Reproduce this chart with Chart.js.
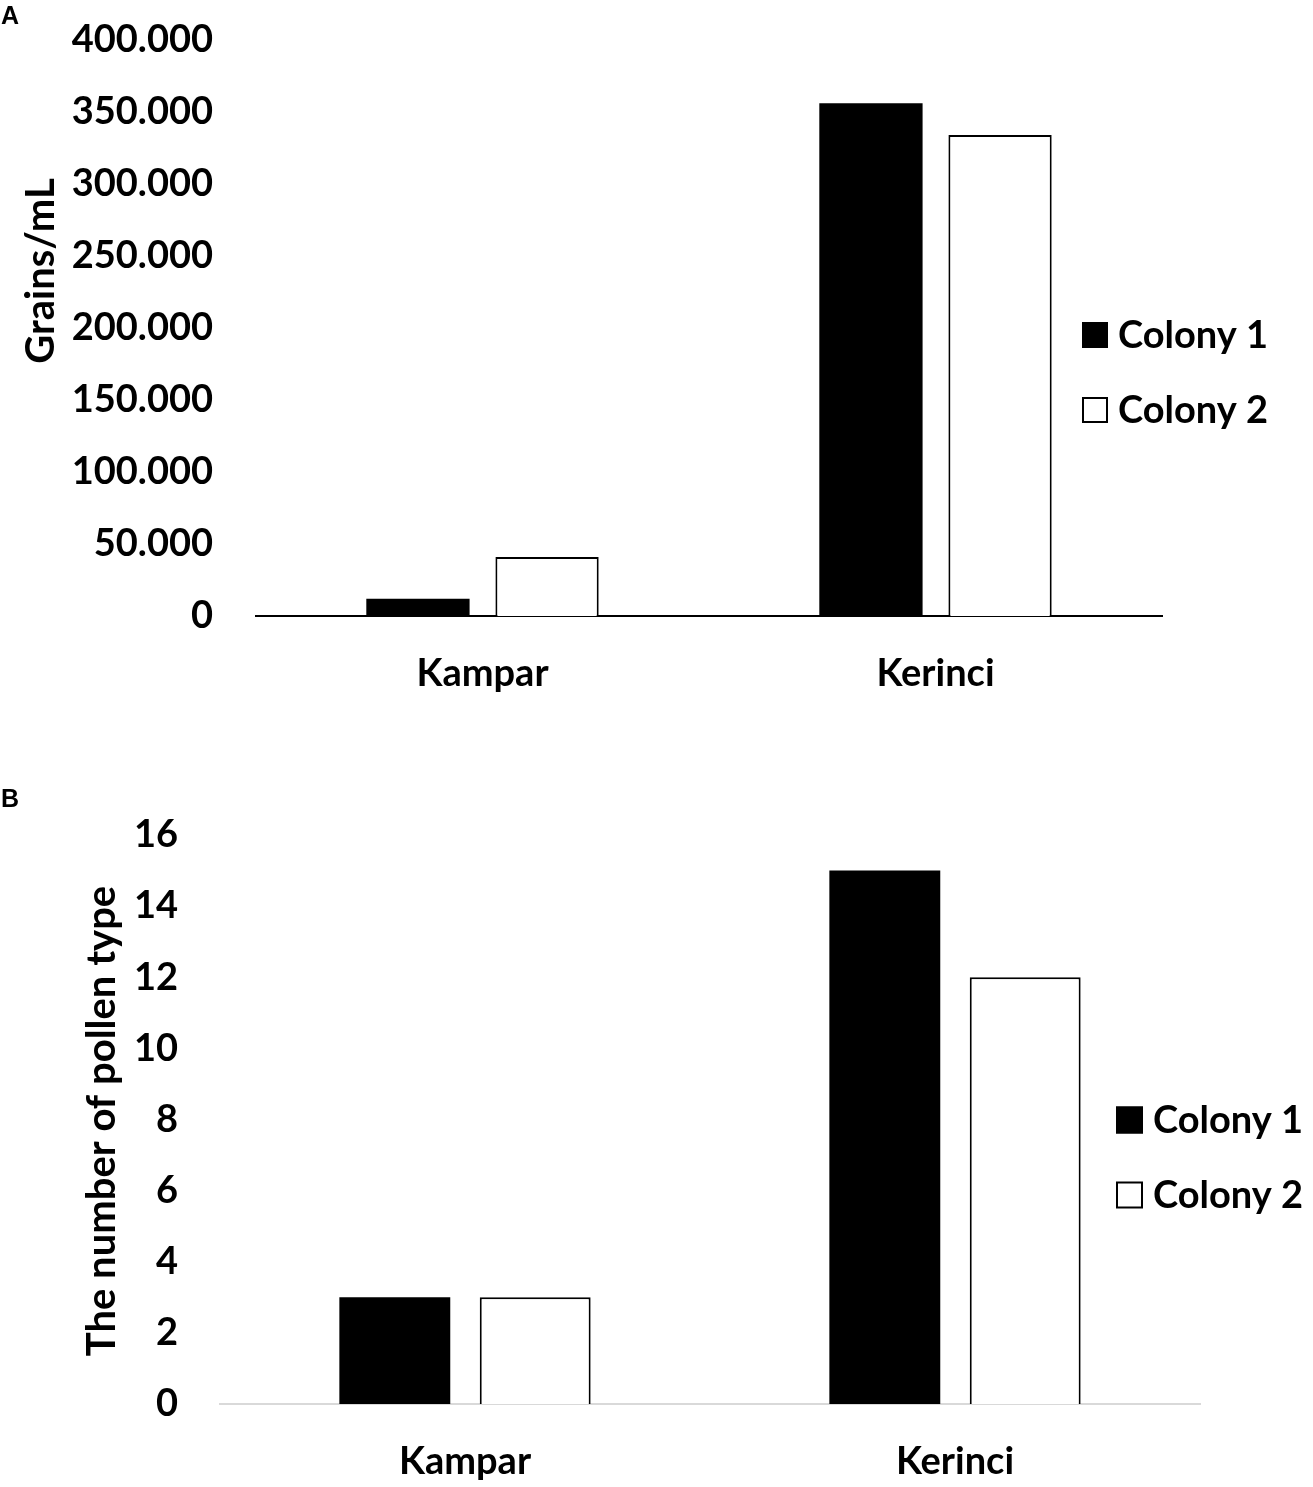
<!DOCTYPE html>
<html><head><meta charset="utf-8">
<script src="https://cdn.jsdelivr.net/npm/chart.js@4.4.1/dist/chart.umd.min.js"></script>
<style>
html,body{margin:0;padding:0;background:#fff;}
body{width:1313px;height:1487px;position:relative;overflow:hidden;}
canvas{position:absolute;left:0;}
.tag{position:absolute;left:1px;font:bold 25px "Liberation Sans",Arial,sans-serif;line-height:25px;color:#000;z-index:2;}
</style></head><body>
<canvas id="cA" width="1313" height="740" style="top:0"></canvas>
<canvas id="cB" width="1313" height="727" style="top:760px"></canvas>
<div class="tag" style="top:3px">A</div>
<div class="tag" style="top:786px">B</div>
<script>
const categories = ['Kampar', 'Kerinci'];
const seriesNames = ['Colony 1', 'Colony 2'];
const grainsColony1 = [12000, 356000];
const grainsColony2 = [41000, 334000];
const typesColony1 = [3, 15];
const typesColony2 = [3, 12];
const grainsTickLabels = ['0', '50.000', '100.000', '150.000', '200.000', '250.000', '300.000', '350.000', '400.000'];
const typesTickLabels = ['0', '2', '4', '6', '8', '10', '12', '14', '16'];
const grainsTitle = 'Grains/mL';
const typesTitle = 'The number of pollen type';

const FONT = 'Lato, "Open Sans", sans-serif';

const decor = {
  id: 'decor',
  afterDraw(chart, args, o) {
    const ctx = chart.ctx;
    ctx.save();
    ctx.fillStyle = '#000';
    ctx.font = 'bold ' + o.titleSize + 'px ' + FONT;
    ctx.translate(o.titleX, o.titleY);
    ctx.rotate(-Math.PI / 2);
    ctx.textAlign = 'center';
    ctx.textBaseline = 'alphabetic';
    ctx.fillText(o.title, 0, 0);
    ctx.restore();

    ctx.save();
    ctx.font = 'bold ' + o.legendSize + 'px ' + FONT;
    ctx.textBaseline = 'middle';
    ctx.textAlign = 'left';
    chart.data.datasets.forEach((ds, i) => {
      const y = o.legendY + i * o.legendGap;
      const b = o.box;
      ctx.fillStyle = ds.backgroundColor;
      ctx.fillRect(o.legendX, y - b / 2, b, b);
      ctx.lineWidth = 2;
      ctx.strokeStyle = '#000';
      ctx.strokeRect(o.legendX + 1, y - b / 2 + 1, b - 2, b - 2);
      ctx.fillStyle = '#000';
      ctx.fillText(ds.label, o.legendX + b + 10, y + 1);
    });
    ctx.restore();
  }
};

function makeChart(id, c1, c2, yMax, step, tickLabels, g) {
  return new Chart(document.getElementById(id), {
    type: 'bar',
    data: {
      labels: categories,
      datasets: [
        { label: seriesNames[0], data: c1, backgroundColor: '#000000', borderColor: '#000000', borderWidth: 0,
          categoryPercentage: g.catPct, barPercentage: g.barPct },
        { label: seriesNames[1], data: c2, backgroundColor: '#ffffff', borderColor: '#000000', borderWidth: 2,
          categoryPercentage: g.catPct, barPercentage: g.barPct }
      ]
    },
    options: {
      responsive: false,
      animation: false,
      devicePixelRatio: 1,
      layout: { padding: { left: 0, right: g.padRight, top: g.padTop, bottom: 0 } },
      plugins: {
        legend: { display: false },
        tooltip: { enabled: false },
        decor: g.decor
      },
      scales: {
        x: {
          grid: { display: false, drawTicks: false },
          border: { display: true, color: g.axisColor, width: g.axisWidth },
          ticks: { padding: g.xPad, color: '#000', font: { family: FONT, size: 38, weight: 'bold' } },
          afterFit(s) { s.height = g.xHeight; }
        },
        y: {
          min: 0, max: yMax,
          grid: { display: false, drawTicks: false },
          border: { display: false },
          ticks: { stepSize: step, padding: g.yPad, color: '#000',
            font: { family: FONT, size: 38, weight: 'bold' },
            callback: (v, i) => tickLabels[i] },
          afterFit(s) { s.width = g.yWidth; s.paddingTop = 0; s.paddingBottom = 0; }
        }
      }
    },
    plugins: [decor]
  });
}

makeChart('cA', grainsColony1, grainsColony2, 400000, 50000, grainsTickLabels, {
  catPct: 0.57, barPct: 0.8,
  padRight: 151, padTop: 40, xHeight: 124, xPad: 35, yWidth: 256, yPad: 43,
  axisColor: '#000000', axisWidth: 2,
  decor: { title: grainsTitle, titleSize: 40, titleX: 54, titleY: 271,
    legendSize: 38, legendX: 1082, legendY: 335, legendGap: 75, box: 26 }
});

makeChart('cB', typesColony1, typesColony2, 16, 2, typesTickLabels, {
  catPct: 0.573, barPct: 0.79,
  padRight: 113, padTop: 75, xHeight: 83, xPad: 35, yWidth: 220, yPad: 42,
  axisColor: '#d9d9d9', axisWidth: 2,
  decor: { title: typesTitle, titleSize: 40, titleX: 115, titleY: 361,
    legendSize: 38, legendX: 1116, legendY: 360, legendGap: 75, box: 27 }
});
</script>
</body></html>
